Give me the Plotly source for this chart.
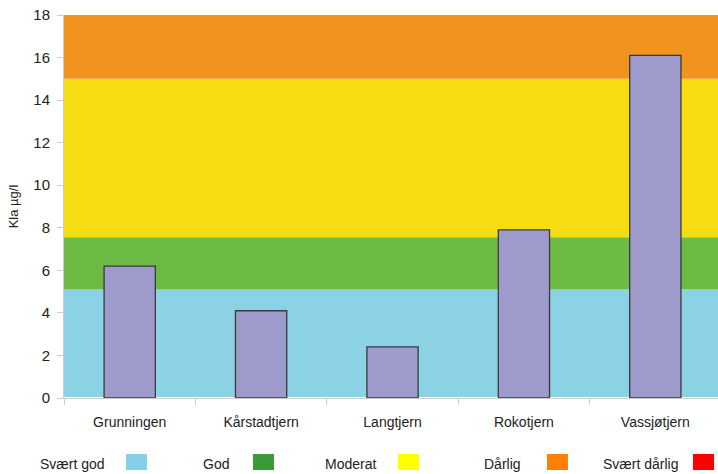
import plotly.graph_objects as go

categories = ["Grunningen", "Kårstadtjern", "Langtjern", "Rokotjern", "Vassjøtjern"]
kla_values = [6.2, 4.1, 2.4, 7.9, 16.1]

# class boundaries (µg/l)
class_names = ["Svært god", "God", "Moderat", "Dårlig", "Svært dårlig"]
class_lower = [0, 5.1, 7.55, 15, None]
class_upper = [5.1, 7.55, 15, 18, None]
band_colors = ["#8bd2e5", "#6dba44", "#f5dd12", "#f2921f", None]
legend_colors = ["#87ceeb", "#3a9a37", "#ffff00", "#ff8000", "#ff0000"]
legend_text_x = [0.0657, 0.2554, 0.4801, 0.7018, 0.9419]
legend_box_x = [0.0948, 0.2890, 0.5107, 0.7385, 0.9618]

fig = go.Figure()
fig.add_trace(go.Bar(
    x=categories, y=kla_values, width=0.39,
    marker=dict(color="#9e9acb", line=dict(color="#3a3a3a", width=1.3)),
    showlegend=False,
))

shapes = []
for lo, hi, c in zip(class_lower, class_upper, band_colors):
    if c is None:
        continue
    shapes.append(dict(type="rect", xref="paper", yref="y", x0=0, x1=1, y0=lo, y1=hi,
                       fillcolor=c, line=dict(width=0), layer="below"))

annotations = []
for name, tx, bx, c in zip(class_names, legend_text_x, legend_box_x, legend_colors):
    annotations.append(dict(text=name, xref="paper", yref="paper", x=tx, y=-0.172,
                            xanchor="right", yanchor="middle", showarrow=False,
                            font=dict(family="Liberation Sans Narrow, Liberation Sans, Arial", size=14, color="#222")))
    shapes.append(dict(type="rect", xref="paper", yref="paper", x0=bx, x1=bx + 0.0321,
                       y0=-0.1462, y1=-0.188, fillcolor=c, line=dict(width=0)))

fig.update_layout(
    width=718, height=474,
    margin=dict(l=64, r=0, t=15, b=76),
    paper_bgcolor="white", plot_bgcolor="white",
    font=dict(family="Liberation Sans, Arial", color="#222"),
    shapes=shapes, annotations=annotations,
    xaxis=dict(range=[-0.5, 4.477], showgrid=False, ticks="outside", tickson="boundaries",
               ticklen=6, tickcolor="#cccccc", showline=True, linecolor="#cccccc",
               tickfont=dict(size=14, color="#222"), ticklabelstandoff=11),
    yaxis=dict(range=[0, 18], dtick=2, showgrid=False, ticks="outside", ticklen=6,
               tickcolor="#cccccc", showline=True, linecolor="#cccccc",
               tickfont=dict(size=15, color="#222"), ticklabelstandoff=4,
               title=dict(text="Kla µg/l", font=dict(size=13, color="#222"), standoff=11)),
)

fig.write_html("out.html", config={"displayModeBar": False},
               post_script="document.body.style.margin='0';document.body.style.overflow='hidden';")
